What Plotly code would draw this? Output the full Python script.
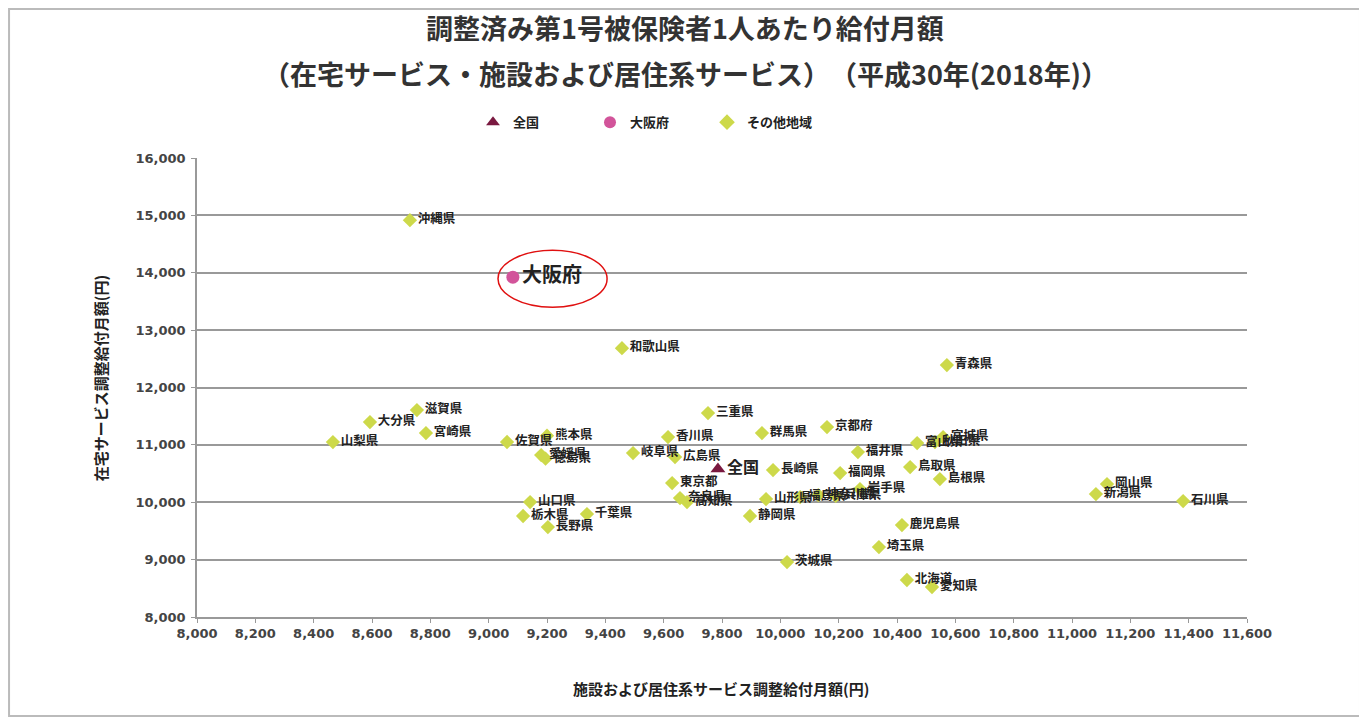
import plotly.graph_objects as go

# ---- data ----
pref_names = ["沖縄県", "和歌山県", "青森県", "滋賀県", "大分県", "宮崎県", "山梨県", "佐賀県",
              "熊本県", "愛媛県", "徳島県", "岐阜県", "広島県", "東京都", "奈良県", "高知県",
              "香川県", "三重県", "群馬県", "京都府", "長崎県", "福岡県", "福井県", "岩手県",
              "山形県", "福島県", "神奈川県", "兵庫県", "富山県", "秋田県", "宮城県", "鳥取県",
              "島根県", "鹿児島県", "埼玉県", "北海道", "愛知県", "茨城県", "静岡県", "山口県",
              "栃木県", "千葉県", "長野県", "岡山県", "新潟県", "石川県"]
pref_x = [8730, 9457, 10571, 8754, 8593, 8785, 8466, 9063,
          9200, 9180, 9195, 9495, 9639, 9629, 9656, 9680,
          9615, 9752, 9937, 10160, 9975, 10205, 10266, 10273,
          9951, 10068, 10130, 10190, 10469, 10530, 10558, 10445,
          10547, 10417, 10338, 10434, 10520, 10023, 9896, 9142,
          9118, 9337, 9203, 11120, 11082, 11381]
pref_y = [14916, 12686, 12390, 11606, 11397, 11205, 11049, 11050,
          11160, 10822, 10760, 10857, 10787, 10334, 10073, 10003,
          11136, 11554, 11205, 11310, 10561, 10508, 10874, 10230,
          10055, 10090, 10125, 10110, 11031, 11048, 11136, 10613,
          10404, 9603, 9219, 8645, 8523, 8958, 9760, 10003,
          9760, 9794, 9568, 10317, 10143, 10021]

national_name = "全国"
national_x = [9786]
national_y = [10578]

osaka_name = "大阪府"
osaka_x = [9083]
osaka_y = [13923]

legend_labels = ["全国", "大阪府", "その他地域"]
title_lines = ["調整済み第1号被保険者1人あたり給付月額",
               "（在宅サービス・施設および居住系サービス）　（平成30年(2018年)）"]
x_title = "施設および居住系サービス調整給付月額(円)"
y_title = "在宅サービス調整給付月額(円)"
x_range = [8000, 11600]
y_range = [8000, 16000]

FONT = "Noto Sans CJK JP"
TICKFONT = "DejaVu Sans"

fig = go.Figure()

fig.add_trace(go.Scatter(
    x=national_x, y=national_y, mode="markers+text", name=legend_labels[0],
    text=[national_name], textposition="middle right",
    textfont=dict(family=FONT, size=16, color="#222", weight="bold"),
    marker=dict(symbol="triangle-up", size=13, color="#7A1940"),
    cliponaxis=False,
))
fig.add_trace(go.Scatter(
    x=osaka_x, y=osaka_y, mode="markers+text", name=legend_labels[1],
    text=[osaka_name], textposition="middle right",
    textfont=dict(family=FONT, size=20, color="#222", weight="bold"),
    marker=dict(symbol="circle", size=13, color="#D2549A"),
    cliponaxis=False,
))
fig.add_trace(go.Scatter(
    x=pref_x, y=pref_y, mode="markers+text", name=legend_labels[2],
    text=pref_names, textposition="middle right",
    textfont=dict(family=FONT, size=12.5, color="#222", weight="bold"),
    marker=dict(symbol="diamond", size=11, color="#CDD94A"),
    cliponaxis=False,
))

# red ellipse around Osaka (offsets relative to Osaka point)
fig.add_shape(type="circle", xref="x", yref="y",
              x0=osaka_x[0] - 51, x1=osaka_x[0] + 323,
              y0=osaka_y[0] - 523, y1=osaka_y[0] + 470,
              line=dict(color="#E01010", width=1.5))

# outer frame
fig.add_shape(type="rect", xref="paper", yref="paper",
              x0=-0.179, x1=1.1076, y0=-0.2157, y1=1.3246,
              line=dict(color="#BBBBBB", width=2), layer="below")

for txt, yy in zip(title_lines, [1.284, 1.185]):
    fig.add_annotation(text=txt, x=0.4648, y=yy, xref="paper", yref="paper",
                       xanchor="center", yanchor="middle", showarrow=False,
                       font=dict(family=FONT, size=27, color="#333", weight="bold"))
fig.add_annotation(text=x_title, x=0.499, y=-0.155, xref="paper", yref="paper",
                   xanchor="center", yanchor="middle", showarrow=False,
                   font=dict(family=FONT, size=15, color="#222", weight="bold"))
fig.add_annotation(text=y_title, x=-0.0925, y=0.52, xref="paper", yref="paper",
                   xanchor="center", yanchor="middle", showarrow=False, textangle=-90,
                   font=dict(family=FONT, size=15, color="#222", weight="bold"))

fig.update_layout(
    width=1359, height=716,
    margin=dict(l=189, r=120, t=150, b=107),
    paper_bgcolor="white", plot_bgcolor="white",
    font=dict(family=FONT, color="#333"),
    showlegend=True,
    legend=dict(orientation="h", x=0.43, xanchor="center", y=1.078, yanchor="middle",
                font=dict(family=FONT, size=13, color="#222", weight="bold"),
                itemsizing="constant", traceorder="normal", itemwidth=30,
                entrywidth=72, entrywidthmode="pixels"),
)
fig.update_xaxes(range=x_range, dtick=200, tickformat=",", showgrid=False,
                 showline=True, linecolor="#999", linewidth=1.5,
                 ticks="outside", ticklen=4, tickcolor="#999",
                 tickfont=dict(family=TICKFONT, size=13, color="#444", weight="bold"),
                 zeroline=False)
fig.update_yaxes(range=y_range, dtick=1000, tickformat=",", showgrid=True,
                 gridcolor="#999", gridwidth=1.5,
                 showline=True, linecolor="#999", linewidth=1.5,
                 ticks="outside", ticklen=4, tickcolor="#999", ticklabelstandoff=3,
                 tickfont=dict(family=TICKFONT, size=13, color="#444", weight="bold"),
                 zeroline=False)

fig.write_html("out.html")
